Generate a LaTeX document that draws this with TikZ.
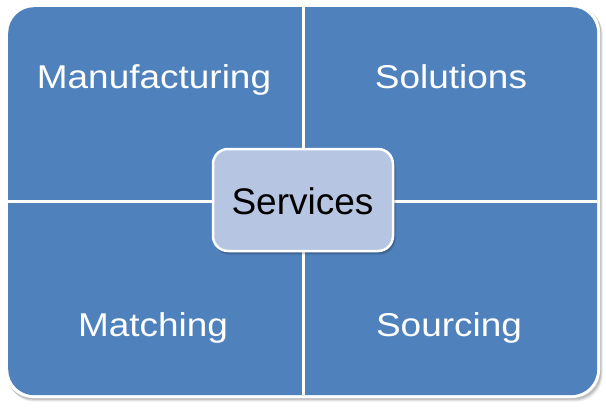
\documentclass[tikz,border=0pt]{standalone}
\usepackage{fontspec}
\setmainfont{Liberation Sans}
\newfontfamily\quadfont[FakeStretch=1.12]{Liberation Sans}
\definecolor{qblue}{HTML}{4F81BD}
\definecolor{cfill}{HTML}{B6C5E1}
\begin{document}
\begin{tikzpicture}[x=1pt,y=-1pt,
  quadlabel/.style={text=white,font=\quadfont\fontsize{33}{36}\selectfont,anchor=base,inner sep=0pt},
  divider/.style={white,line width=3pt},
  centerbox/.style={draw=white,line width=2.5pt,fill=cfill,rounded corners=15pt,minimum width=180pt,minimum height=102pt,inner sep=0pt,font=\fontsize{37}{42}\selectfont}]
\useasboundingbox (0,0) rectangle (606,410);
% shadow of outer frame
\foreach \o/\op in {5/0.04,4/0.06,3/0.08,2/0.10}{
  \fill[black,opacity=\op,rounded corners=27pt] (5+\o*0.6,4+\o*0.8) rectangle (600+\o*0.6,398+\o*0.8);
}
\fill[white,rounded corners=28pt] (5,4) rectangle (600,398);
\node[fill=qblue,rounded corners=26pt,minimum width=589pt,minimum height=388pt,inner sep=0pt,anchor=north west] (frame) at (8,7) {};
\coordinate (vt) at (303,7);
\coordinate (vb) at (303,395);
\coordinate (hl) at (8,201);
\coordinate (hr) at (597,201);
\draw[divider] (vt) -- (vb);
\draw[divider] (hl) -- (hr);
\node[quadlabel] (manu) at (154,88) {Manufacturing};
\node[quadlabel] (sol) at (451,88) {Solutions};
\node[quadlabel] (match) at (153,336) {Matching};
\node[quadlabel] (src) at (449,336) {Sourcing};
% center shadow
\foreach \o/\op in {4/0.05,3/0.08,2/0.12}{
  \fill[black,opacity=\op,rounded corners=16pt] (212+\o*0.5,148+\o*0.8) rectangle (394+\o*0.5,252+\o*0.8);
}
\node[centerbox] (serv) at (303,200) {};
\node[anchor=base,inner sep=0pt,font=\fontsize{37}{42}\selectfont] (servtext) at (302.5,214) {Services};
\end{tikzpicture}
\end{document}
